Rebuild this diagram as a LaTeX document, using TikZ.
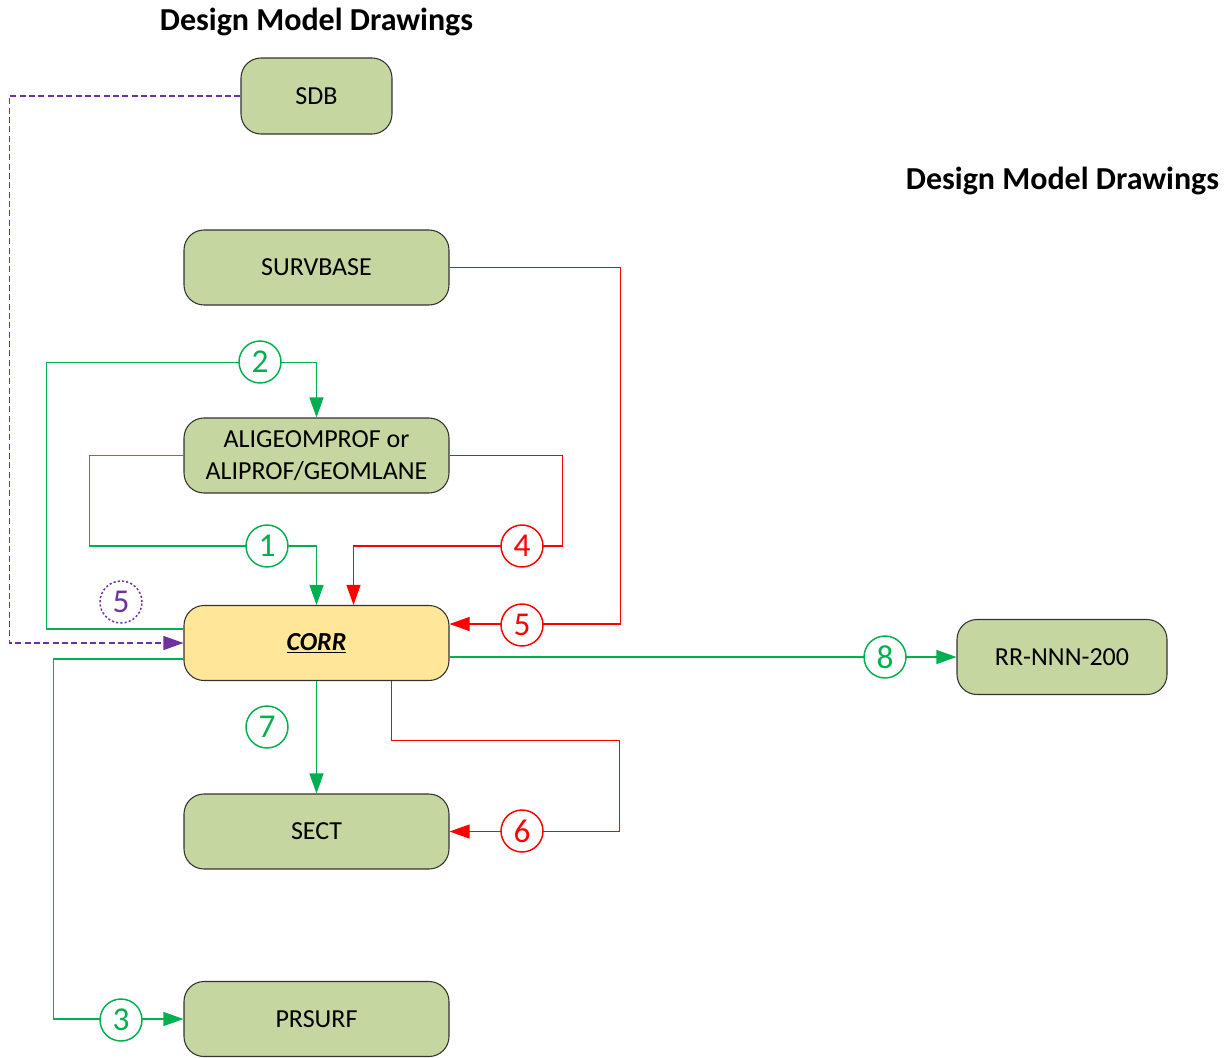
\documentclass[tikz,border=0pt]{standalone}
\usepackage{fontspec}
\setmainfont{Carlito}
\usetikzlibrary{arrows.meta,calc}
\definecolor{boxgreen}{HTML}{C5D6A0}
\definecolor{boxyellow}{HTML}{FFE699}
\definecolor{edgegray}{HTML}{333333}
\definecolor{lgreen}{HTML}{00B050}
\definecolor{lred}{HTML}{FF0000}
\definecolor{lpurple}{HTML}{7030A0}
\begin{document}
\begin{tikzpicture}[x=0.75pt,y=-0.75pt,
  box/.style={draw=edgegray,line width=0.8pt,rounded corners=15pt,fill=boxgreen,
    minimum width=198.75pt,minimum height=56.25pt,font=\fontsize{19.5}{23}\selectfont,align=center,inner sep=0pt},
  title/.style={font=\fontsize{24}{28}\selectfont\bfseries},
  gline/.style={lgreen,line width=0.8pt},
  rline/.style={lred,line width=0.8pt},
  pline/.style={lpurple,line width=0.8pt,dash pattern=on 4.5pt off 2.5pt},
  tip/.style={-{Triangle[length=15pt,width=10.5pt]}},
  num/.style={circle,draw,fill=white,line width=1.1pt,minimum size=31.5pt,inner sep=0pt,
    font=\fontsize{25}{28}\selectfont},
  gnum/.style={num,draw=lgreen,text=lgreen},
  rnum/.style={num,draw=lred,text=lred},
  pnum/.style={num,draw=lpurple,text=lpurple,dash pattern=on 1.6pt off 1.6pt}
]
\useasboundingbox (0,0) rectangle (1224,1057);

% titles
\node[title] (t1) at (316.5,22) {Design Model Drawings};
\node[title] (t2) at (1062.5,181) {Design Model Drawings};

% boxes
\node[box,minimum width=113.25pt,minimum height=57pt] (sdb) at (316.5,96) {SDB};
\node[box] (surv) at (316.5,267.5) {SURVBASE};
\node[box] (ali) at (316.5,455.5) {ALIGEOMPROF or\\[1pt]ALIPROF/GEOMLANE};
\node[box,fill=boxyellow] (corr) at (316.5,643) {\textbf{\textit{\underline{CORR}}}};
\node[box] (sect) at (316.5,831.5) {SECT};
\node[box] (prs) at (316.5,1019) {PRSURF};
\node[box,minimum width=157.5pt] (rr) at (1062,657) {RR-NNN-200};

% connectors
\draw[pline,tip,lpurple] (sdb.west) -| ($(corr.west)+(-174,0)$) -- (corr.west);
\draw[gline,tip] ($(corr.west)+(0,-14)$) -- ++(-137,0) |- ($(ali.north)+(0,-55)$) -- (ali.north);
\draw[gline,tip] (ali.west) -- ++(-94,0) |- ($(corr.north)+(0,-59)$) -- (corr.north);
\draw[rline,tip] (ali.east) -- ++(113,0) |- ($(corr.north)+(37,-59)$) -- ($(corr.north)+(37,0)$);
\draw[rline,tip] (surv.east) -- ++(171,0) |- ($(corr.east)+(0,-19)$);
\draw[gline,tip] ($(corr.east)+(0,14)$) -- (rr.west);
\draw[gline,tip] (corr.south) -- (sect.north);
\draw[rline,tip] ($(corr.south)+(75,0)$) -- ++(0,59) -| ($(sect.east)+(170,0)$) -- (sect.east);
\draw[gline,tip] ($(corr.west)+(0,16)$) -- ++(-130,0) |- (prs.west);

% numbered circles
\node[gnum] (n2) at (260,362) {2};
\node[gnum] (n1) at (267,546) {1};
\node[rnum] (n4) at (522,546) {4};
\node[pnum] (n5p) at (121,602) {5};
\node[rnum] (n5) at (522,625) {5};
\node[gnum] (n8) at (885,657) {8};
\node[gnum] (n7) at (267,727) {7};
\node[rnum] (n6) at (522,831) {6};
\node[gnum] (n3) at (121,1020) {3};
\end{tikzpicture}
\end{document}
